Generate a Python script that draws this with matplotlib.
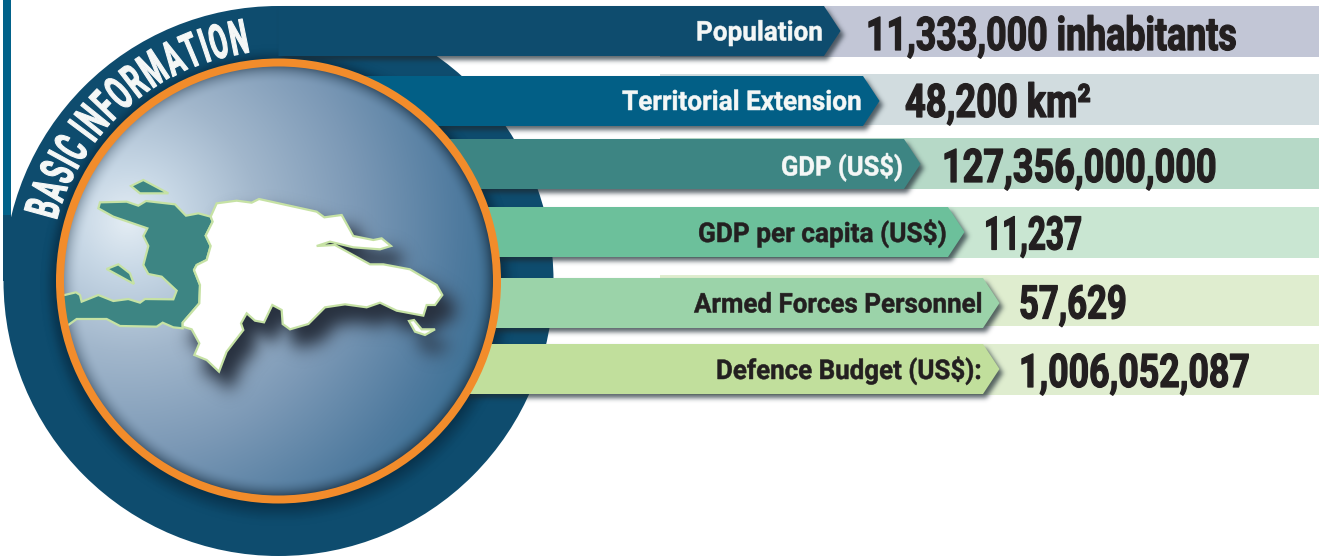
import numpy as np
import matplotlib
matplotlib.use("Agg")
import matplotlib.pyplot as plt
import matplotlib.colors as mcolors
from matplotlib.patches import Polygon, Circle, Rectangle
from matplotlib.path import Path
from matplotlib.patheffects import AbstractPathEffect
from matplotlib.transforms import Affine2D

# ---- content ----
labels = ["Population", "Territorial Extension", "GDP (US$)",
          "GDP per capita (US$)", "Armed Forces Personnel", "Defence Budget (US$):"]
values = ["11,333,000 inhabitants", "48,200 km²", "127,356,000,000",
          "11,237", "57,629", "1,006,052,087"]
title = "BASIC INFORMATION"

# ---- layout (pixels) ----
W, H = 1319, 559
row_top = [6, 76, 139, 207, 278, 344]
row_h = 50
bg_top = [6, 74, 138, 207, 275, 344]
bg_left = 660
body_end = [824, 863, 904, 948, 983, 983]
tip_len = 16.5
label_span = [(696, 823), (622, 862), (781, 903), (698, 947), (694, 983), (716, 982)]
label_base = [40.5, 110, 175.5, 242, 312.5, 379]
value_span = [(866, 1237), (905, 1091), (942, 1217), (984, 1082), (1019, 1127), (1019, 1250)]
value_base = [50, 117, 182, 249.5, 318.5, 387]
bar_colors = ["#0e4c6e", "#025f86", "#3d8583", "#6cc09b", "#9bd3a9", "#c1df9c"]
bg_colors = ["#c2c6d6", "#d1dcdf", "#b6d9c7", "#c9e6d2", "#dfedcf", "#dfedcf"]
cx, cy = 278.5, 281
R_disc, R_ring = 275, 222.5
ring_w = 8
narrow = ["Liberation Sans Narrow", "Roboto", "DejaVu Sans"]
plain = ["Roboto", "DejaVu Sans"]

# map outlines, as measured on a 3x crop whose origin is (60, 170)
dr_outline = [(470,100),(530,92),(575,98),(597,87),(770,125),(793,142),(845,135),(880,198),(940,210),
    (965,205),(993,228),(960,238),(880,232),(810,215),(770,228),(825,225),(930,283),(970,283),(1050,298),
    (1130,345),(1147,375),(1125,405),(1100,405),(1090,437),(1010,422),(960,398),(920,412),(855,403),
    (795,412),(745,462),(690,478),(668,462),(665,420),(637,405),(612,457),(585,452),(560,430),(543,460),
    (550,480),(500,545),(477,605),(440,570),(403,555),(418,520),(395,478),(368,470),(368,458),(418,400),
    (420,345),(402,300),(410,285),(440,270),(452,228),(437,197),(458,155),(452,140)]
saona = [(1047,453),(1062,450),(1085,478),(1125,478),(1095,495),(1065,485)]
haiti = [(120,97),(200,95),(235,107),(258,93),(345,103),(378,137),(415,130),(452,140),(458,155),(437,197),
    (452,228),(440,270),(410,285),(402,300),(420,345),(418,400),(368,458),(368,475),(340,472),(308,458),
    (290,470),(180,468),(140,447),(50,447),(25,465),(-20,490),(-20,375),(14,375),(48,367),(60,375),(65,395),
    (115,375),(160,393),(205,387),(240,398),(255,387),(340,388),(350,362),(305,320),(265,312),(250,285),
    (265,228),(250,198),(262,175),(160,140),(115,115)]
tortuga = [(213,48),(250,30),(325,70),(240,70)]
gonave = [(140,297),(175,283),(210,310),(222,342)]


def crop(pts):
    return [(60 + x / 3, 170 + y / 3) for x, y in pts]


# ---- helpers ----
class Reshape(AbstractPathEffect):
    """Draw a text scaled along and across its own baseline, with an optional thickening stroke."""
    def __init__(self, sx, sy=1.0, stroke=0.0):
        super().__init__()
        self.sx, self.sy, self.stroke = sx, sy, stroke

    def draw_path(self, renderer, gc, tpath, affine, rgbFace=None):
        a = Affine2D().scale(self.sx, self.sy) + affine
        g = renderer.new_gc()
        g.copy_properties(gc)
        if self.stroke:
            g.set_linewidth(self.stroke)
            g.set_foreground(rgbFace)
        renderer.draw_path(g, tpath, a, rgbFace)
        g.restore()


yy, xx = np.mgrid[0:H, 0:W]
xc, yc = xx + 0.5, yy + 0.5
grid = np.column_stack([xc.ravel(), yc.ravel()])


def mask_of(polys):
    m = np.zeros(W * H, bool)
    for p in polys:
        m |= Path(p + [p[0]]).contains_points(grid)
    return m.reshape(H, W).astype(float)


def blur(m, s):
    fy = np.fft.fftfreq(H)[:, None]
    fx = np.fft.rfftfreq(W)[None, :]
    return np.fft.irfft2(np.fft.rfft2(m) * np.exp(-2 * (np.pi * s) ** 2 * (fx ** 2 + fy ** 2)), s=(H, W)).clip(0, 1)


def shift(p, dx, dy):
    return [(x + dx, y + dy) for x, y in p]


def overlay(alpha, color, z, clip=None):
    rgb = mcolors.to_rgb(color)
    img = np.zeros((H, W, 4))
    img[..., :3] = rgb
    img[..., 3] = alpha
    im = ax.imshow(img, extent=(0, W, H, 0), aspect="auto", interpolation="nearest", zorder=z)
    if clip is not None:
        im.set_clip_path(clip)
    return im


# ---- figure ----
fig = plt.figure(figsize=(W / 100, H / 100), dpi=100, facecolor="white")
ax = fig.add_axes([0, 0, 1, 1])
ax.set_axis_off()
rend = fig.canvas.get_renderer()
ax.set_xlim(0, W)
ax.set_ylim(H, 0)

# side rule
ax.add_patch(Rectangle((3, 0), 8, 215, fc="#02628a", ec="none", zorder=1))
ax.add_patch(Rectangle((3, 215), 8, 66, fc="#0e4c6e", ec="none", zorder=1))

# value backgrounds
for top, col in zip(bg_top, bg_colors):
    ax.add_patch(Rectangle((bg_left, top), W - bg_left, row_h + 0.7, fc=col, ec="none", zorder=1))

# outer disc and the shadow the ring throws on it
disc = Circle((cx, cy), R_disc, fc="#0e4c6e", ec="none", zorder=2)
ax.add_patch(disc)
d_near = np.hypot(xc - cx, yc - cy - 1)
d_far = np.hypot(xc - cx - 1, yc - cy - 6)
overlay(0.7 * blur((d_near < R_ring + 3).astype(float), 5), "#06283e", 3, disc)
overlay(0.3 * blur((d_far < R_ring + 8).astype(float), 4), "#06283e", 3.1, disc)

# arrow bars with soft shadows
for i, (top, end, col) in enumerate(zip(row_top, body_end, bar_colors)):
    b = top + row_h
    poly = [(cx, top), (end, top), (end + tip_len, top + row_h / 2), (end, b), (cx, b)]
    overlay(0.72 * blur(mask_of([shift(poly, 3.5, 4)]), 2.4), "#1c2a33", 4 + i * 0.01)
    ax.add_patch(Polygon(poly, closed=True, fc=col, ec="none", zorder=5 + i * 0.01))

# inner globe: radial shading away from the light spot, darkening at the rim
dist = np.hypot(xc - 128, yc - 221)
stops_d = [0, 50, 130, 230, 330, 410]
stops_c = np.array([mcolors.to_rgb(c) for c in
                    ["#e4edf4", "#c8d8e6", "#a2b7cc", "#7c99b6", "#507b9f", "#2f6a8f"]])
globe = np.zeros((H, W, 4))
for k in range(3):
    globe[..., k] = np.interp(dist, stops_d, stops_c[:, k])
rim = np.clip((np.hypot(xc - cx, yc - cy) - 198) / 18, 0, 1) ** 2 * np.interp(dist, [100, 350], [0.4, 0.85])
for k, v in enumerate(mcolors.to_rgb("#1b3042")):
    globe[..., k] = globe[..., k] * (1 - rim) + v * rim
globe[..., 3] = 1
inner = Circle((cx, cy), R_ring - ring_w / 2, transform=ax.transData, fc="none", ec="none")
ax.add_patch(inner)
im = ax.imshow(globe, extent=(0, W, H, 0), aspect="auto", interpolation="bilinear", zorder=6)
im.set_clip_path(inner)
ax.add_patch(Circle((cx, cy), R_ring - ring_w / 2, fc="none", ec="#f28c2b",
                    lw=ring_w * 0.72, zorder=9))

# map
edge = "#c6e2a4"
dr_pts, saona_pts = crop(dr_outline), crop(saona)
shade = blur(mask_of([shift(dr_pts, 11, 15), shift(saona_pts, 11, 15)]), 7)
overlay(shade ** 0.6, "#28313f", 7, inner)
for pts in (haiti, tortuga, gonave):
    pg = Polygon(crop(pts), closed=True, fc="#3d8583", ec=edge, lw=1.6, joinstyle="miter", zorder=7.5)
    ax.add_patch(pg)
    pg.set_clip_path(inner)
for pts in (dr_pts, saona_pts):
    ax.add_patch(Polygon(pts, closed=True, fc="white", ec=edge, lw=1.6, joinstyle="miter", zorder=8))


# text: the set size keeps the natural width near the target, the effect then fits it exactly
def fitted(s, span, base, size, color, family, sy=1.0, stroke=0.0):
    t = ax.text(span[0], base, s, fontsize=size, color=color, family=family,
                fontweight="bold", ha="left", va="baseline", zorder=12)
    sx = (span[1] - span[0]) / t.get_window_extent(rend).width
    t.set_path_effects([Reshape(sx, sy, stroke)])
    return t


for s, sp, bs, col in zip(labels, label_span, label_base,
                          ["#f4f7f6"] * 3 + ["#231f20"] * 3):
    fitted(s, sp, bs, 19.6, col, plain, 1.0, 0.35)
for s, sp, bs in zip(values, value_span, value_base):
    fitted(s, sp, bs, 26.0, "#231f20", narrow, 33.4 / 26.0, 0.9)

# title along the disc
r_base = 230
a_start, a_end = np.deg2rad(74.7), np.deg2rad(6.6)   # measured from straight up, to the left
size = 34.5
adv = []
for ch in title:
    if ch == " ":
        adv.append(0.2 * size * 100 / 72)
    else:
        t = ax.text(0, 0, ch, fontsize=size, family=narrow, fontweight="bold")
        adv.append(t.get_window_extent(rend).width + 2.5)
        t.remove()
adv = np.array(adv)
scale = (a_start - a_end) * r_base / adv.sum()
pos = np.concatenate([[0], np.cumsum(adv)[:-1]]) * scale
for ch, p in zip(title, pos):
    if ch == " ":
        continue
    a = a_start - p / r_base
    x, y = cx - r_base * np.sin(a), cy - r_base * np.cos(a)
    t = ax.text(x, y, ch, fontsize=size, family=narrow, fontweight="bold", color="#f4f7f6",
                rotation=np.rad2deg(a), rotation_mode="anchor", ha="left", va="baseline", zorder=12)
    t.set_path_effects([Reshape(scale, 1.0, 0.8)])

fig.savefig("out.png", dpi=100, facecolor="white")
